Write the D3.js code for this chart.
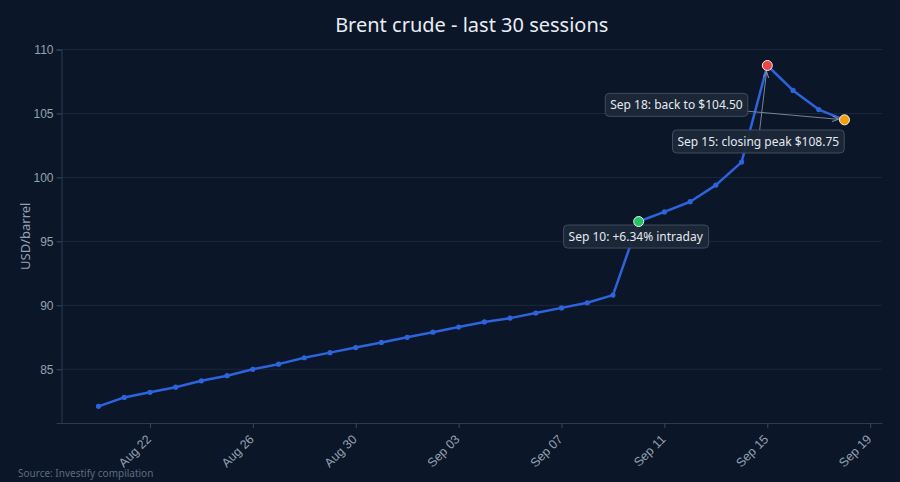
<!DOCTYPE html>
<html>
<head>
<meta charset="utf-8">
<script src="https://cdn.jsdelivr.net/npm/d3@7"></script>
<style>
  html, body { margin: 0; padding: 0; background: #0b1628; }
  svg { display: block; font-family: "Noto Sans", "Open Sans", sans-serif; }
</style>
</head>
<body>
<div id="chart"></div>
<script>
// Daily closes, Aug 20 - Sep 18
const dates = [
  "2024-08-20", "2024-08-21", "2024-08-22", "2024-08-23", "2024-08-24",
  "2024-08-25", "2024-08-26", "2024-08-27", "2024-08-28", "2024-08-29",
  "2024-08-30", "2024-08-31", "2024-09-01", "2024-09-02", "2024-09-03",
  "2024-09-04", "2024-09-05", "2024-09-06", "2024-09-07", "2024-09-08",
  "2024-09-09", "2024-09-10", "2024-09-11", "2024-09-12", "2024-09-13",
  "2024-09-14", "2024-09-15", "2024-09-16", "2024-09-17", "2024-09-18"
];
const prices = [
  82.1, 82.8, 83.2, 83.6, 84.1, 84.5, 85.0, 85.4, 85.9, 86.3,
  86.7, 87.1, 87.5, 87.9, 88.3, 88.7, 89.0, 89.4, 89.8, 90.2,
  90.8, 96.55, 97.3, 98.1, 99.4, 101.2, 108.75, 106.8, 105.3, 104.5
];
const xTicks = ["2024-08-22", "2024-08-26", "2024-08-30", "2024-09-03",
                "2024-09-07", "2024-09-11", "2024-09-15", "2024-09-19"];
const yTicks = [85, 90, 95, 100, 105, 110];
const yDomain = [80.8, 110];
const xDomain = ["2024-08-18T13:30", "2024-09-19T11:00"];

const noteDates = ["2024-09-10", "2024-09-15", "2024-09-18"];
const noteTexts = ["Sep 10: +6.34% intraday", "Sep 15: closing peak $108.75", "Sep 18: back to $104.50"];
const noteColors = ["#22c55e", "#ef4444", "#f59e0b"];
// label box centre, offset from the marked point (px)
const noteOffsets = [[-3, 15], [-9, 76], [-168, -15]];

const W = 900, H = 482;
const margin = { top: 49.5, right: 18, bottom: 59, left: 61.5 };
const width = W - margin.left - margin.right;
const height = H - margin.top - margin.bottom;

const parse = d3.utcParse("%Y-%m-%d");
const parseT = d3.utcParse("%Y-%m-%dT%H:%M");
const data = dates.map((d, i) => ({ date: parse(d), price: prices[i] }));

const x = d3.scaleUtc().domain(xDomain.map(parseT)).range([0, width]);
const y = d3.scaleLinear().domain(yDomain).range([height, 0]);

const svgRoot = d3.select("#chart").append("svg")
  .attr("width", W).attr("height", H);

svgRoot.append("rect").attr("width", W).attr("height", H).attr("fill", "#0b1628");

const defs = svgRoot.append("defs");
defs.append("marker")
  .attr("id", "arrow")
  .attr("viewBox", "0 0 10 10")
  .attr("refX", 9).attr("refY", 5)
  .attr("markerWidth", 7).attr("markerHeight", 7)
  .attr("orient", "auto")
  .append("path")
  .attr("d", "M0,1 L9,5 L0,9")
  .attr("fill", "none")
  .attr("stroke", "#8a97aa")
  .attr("stroke-width", 1.3);

const svg = svgRoot.append("g")
  .attr("transform", `translate(${margin.left},${margin.top})`);

// title
svgRoot.append("text")
  .attr("x", margin.left + width / 2)
  .attr("y", 32)
  .attr("text-anchor", "middle")
  .attr("fill", "#e8edf4")
  .style("font-size", "20px")
  .text("Brent crude - last 30 sessions");

// grid
svg.append("g")
  .selectAll("line")
  .data(yTicks)
  .join("line")
  .attr("x1", 0).attr("x2", width)
  .attr("y1", d => y(d)).attr("y2", d => y(d))
  .attr("stroke", "#1b283b")
  .attr("stroke-width", 1);

// Y axis
const yAxis = svg.append("g")
  .call(d3.axisLeft(y).tickValues(yTicks).tickSize(5).tickPadding(3));
yAxis.select(".domain").attr("stroke", "#2c3a4e");
yAxis.selectAll(".tick line").attr("stroke", "#3a4860");
yAxis.selectAll("text").attr("fill", "#95a1b3").style("font-size", "12px");

// X axis
const xAxis = svg.append("g")
  .attr("transform", `translate(0,${height})`)
  .call(d3.axisBottom(x).tickValues(xTicks.map(parse))
    .tickFormat(d3.utcFormat("%b %d")).tickSize(5).tickSizeOuter(0));
xAxis.select(".domain").attr("stroke", "#2c3a4e");
xAxis.selectAll(".tick line").attr("stroke", "#3a4860");
xAxis.selectAll("text")
  .attr("fill", "#95a1b3")
  .style("font-size", "12.5px")
  .attr("text-anchor", "end")
  .attr("x", 0)
  .attr("y", 0)
  .attr("dx", -11)
  .attr("dy", 13)
  .attr("transform", "rotate(-45)");

// Y label
svgRoot.append("text")
  .attr("transform", `translate(30,${margin.top + height / 2}) rotate(-90)`)
  .attr("text-anchor", "middle")
  .attr("fill", "#95a1b3")
  .style("font-size", "13px")
  .text("USD/barrel");

// source
svgRoot.append("text")
  .attr("x", 18).attr("y", 477)
  .attr("fill", "#5d6b80")
  .style("font-size", "10px")
  .text("Source: Investify compilation");

// line
const line = d3.line().x(d => x(d.date)).y(d => y(d.price));
svg.append("path")
  .datum(data)
  .attr("fill", "none")
  .attr("stroke", "#2d63dc")
  .attr("stroke-width", 2.5)
  .attr("stroke-linejoin", "round")
  .attr("d", line);

svg.append("g")
  .selectAll("circle")
  .data(data)
  .join("circle")
  .attr("cx", d => x(d.date))
  .attr("cy", d => y(d.price))
  .attr("r", 2.6)
  .attr("fill", "#2d63dc");

// annotations
const notes = noteDates.map((d, i) => {
  const p = data.find(e => +e.date === +parse(d));
  return { date: p.date, price: p.price, text: noteTexts[i], color: noteColors[i], off: noteOffsets[i] };
});

const noteG = svg.append("g");
notes.forEach(n => {
  const px = x(n.date), py = y(n.price);
  const cx = px + n.off[0], cy = py + n.off[1];
  const dxv = px - cx, dyv = py - cy;
  const len = Math.hypot(dxv, dyv);
  const end = Math.max(0, len - 6);
  noteG.append("line")
    .attr("x1", cx).attr("y1", cy)
    .attr("x2", cx + dxv / len * end).attr("y2", cy + dyv / len * end)
    .attr("stroke", "#76839a")
    .attr("stroke-width", 1)
    .attr("marker-end", "url(#arrow)");
});
notes.forEach(n => {
  const px = x(n.date), py = y(n.price);
  const cx = px + n.off[0], cy = py + n.off[1];
  const g = noteG.append("g");
  const rect = g.append("rect");
  const t = g.append("text")
    .attr("x", cx).attr("y", cy)
    .attr("text-anchor", "middle")
    .attr("dominant-baseline", "central")
    .attr("fill", "#e4e9f0")
    .style("font-size", "12px")
    .text(n.text);
  const bb = t.node().getBBox();
  rect.attr("x", bb.x - 5).attr("y", cy - 11.5)
    .attr("width", bb.width + 10).attr("height", 23)
    .attr("rx", 4)
    .attr("fill", "#1c2838")
    .attr("fill-opacity", 0.95)
    .attr("stroke", "#3f4c60")
    .attr("stroke-width", 1);
});

// highlight markers
svg.append("g")
  .selectAll("circle")
  .data(notes)
  .join("circle")
  .attr("cx", d => x(d.date))
  .attr("cy", d => y(d.price))
  .attr("r", 5)
  .attr("fill", d => d.color)
  .attr("stroke", "#eef2f7")
  .attr("stroke-width", 1);
</script>
</body>
</html>
